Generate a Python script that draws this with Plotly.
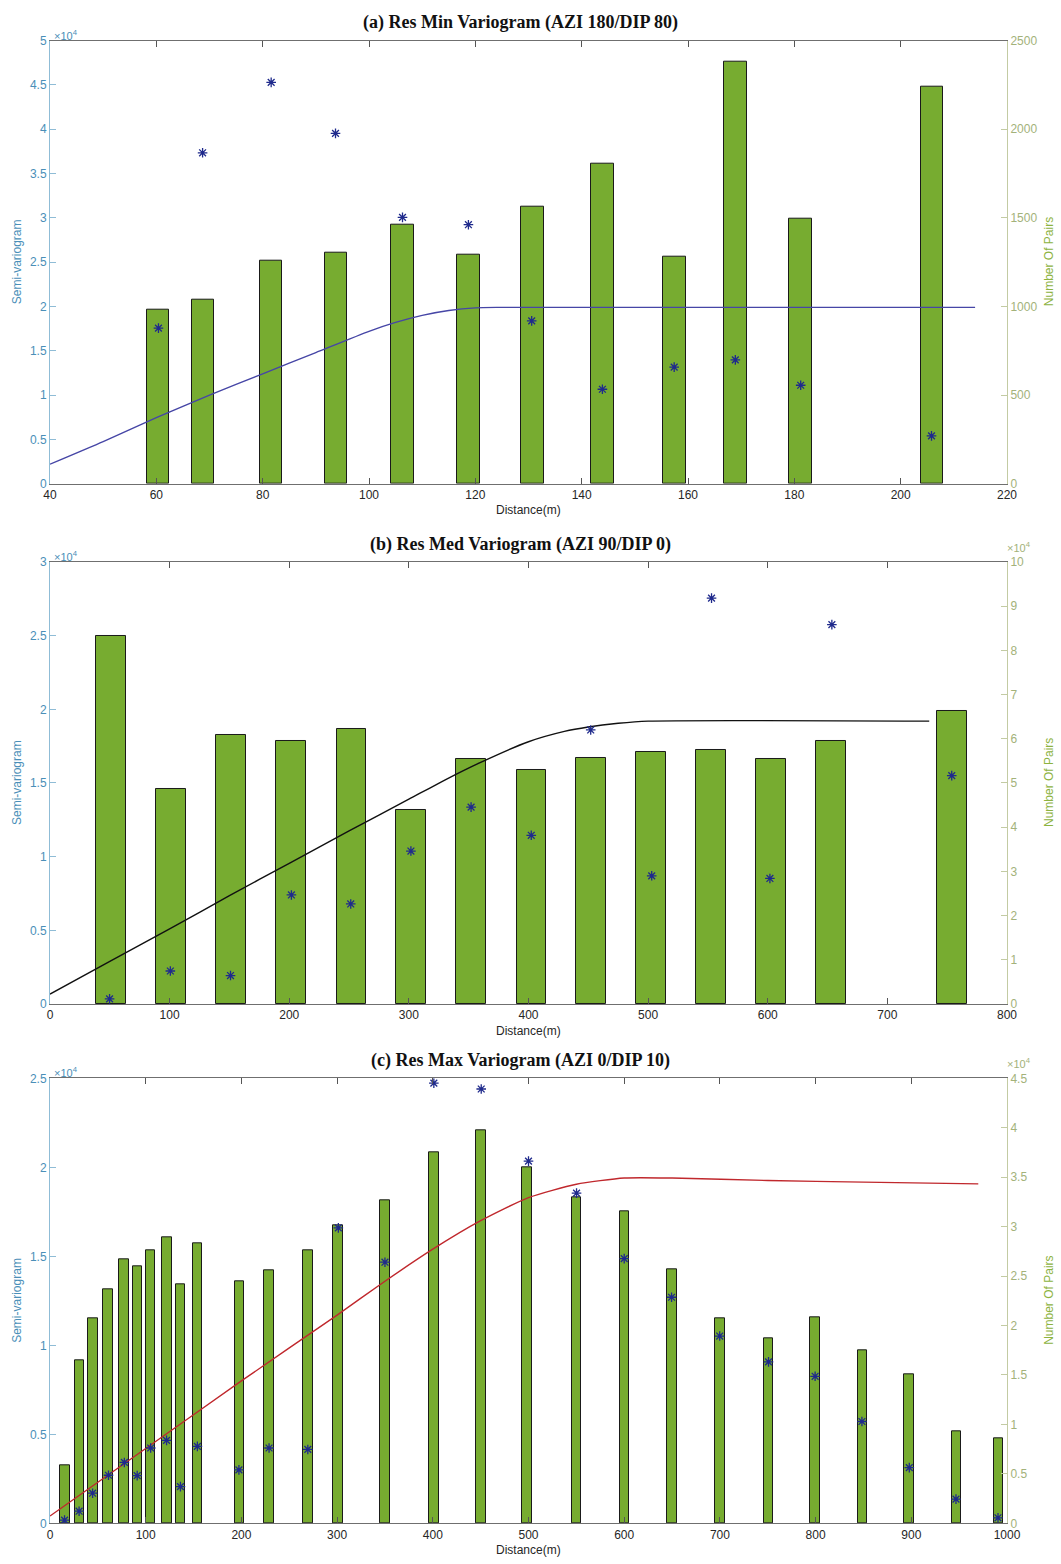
import plotly.graph_objects as go

# ---------------- data ----------------
# (a) Res Min Variogram
a_bar_x = [60.3, 68.8, 81.6, 93.8, 106.3, 118.7, 130.7, 143.9, 157.5, 168.9, 181.2, 205.9]
a_pairs = [984, 1036, 1259, 1304, 1459, 1295, 1562, 1804, 1279, 2383, 1497, 2243]
a_pt_x = [60.4, 68.7, 81.6, 93.7, 106.3, 118.7, 130.6, 143.9, 157.4, 168.9, 181.2, 205.8]
a_gamma = [17560, 37350, 45300, 39540, 30060, 29230, 18380, 10660, 13160, 13980, 11110, 5400]
a_model_x = [40, 50, 60, 70, 80, 90, 100, 105, 110, 115, 120, 124, 214]
a_model_y = [2200, 4750, 7450, 10000, 12400, 14800, 17200, 18200, 19000, 19550, 19850, 19900, 19900]

# (b) Res Med Variogram
b_bar_x = [51, 101, 151, 201.5, 252, 302, 352, 402.5, 452.5, 502.5, 552.5, 603, 653, 754]
b_pairs = [83300, 48600, 60800, 59400, 62200, 43800, 55500, 53000, 55700, 57000, 57400, 55400, 59600, 66300]
b_pt_x = [49.8, 100.6, 150.9, 201.8, 251.4, 301.7, 352, 402.3, 452, 503, 553, 601.8, 653.6, 753.8]
b_gamma = [350, 2240, 1930, 7400, 6790, 10380, 13360, 11450, 18600, 8700, 27550, 8520, 25750, 15500]
b_model_x = [0, 50, 100, 150, 200, 250, 300, 330, 360, 400, 430, 450, 475, 500, 735]
b_model_y = [670, 2900, 5100, 7350, 9550, 11750, 13900, 15200, 16400, 17800, 18500, 18800, 19050, 19200, 19200]

# (c) Res Max Variogram
c_bar_x = [15.5, 30.7, 44.8, 60.7, 77.6, 91.5, 105.2, 122.5, 136.5, 154.2, 198, 228.8, 269.6, 300.9,
           350.3, 401.1, 450.4, 498.6, 550.2, 600.1, 650, 700, 750.8, 799.6, 849.2, 897.6, 947.1, 991.2]
c_pairs = [5900, 16500, 20700, 23700, 26700, 26000, 27600, 28900, 24200, 28300, 24500, 25600, 27600, 30100,
           32700, 37500, 39700, 36000, 33000, 31500, 25700, 20700, 18700, 20800, 17500, 15100, 9300, 8600]
c_pt_x = [15.2, 30.4, 44.5, 61.1, 77.7, 91.1, 105.2, 121.8, 136.3, 154, 197.4, 228.9, 269.4, 301.3,
          350, 401.1, 450.6, 500, 550.2, 600, 649.5, 699.8, 750.8, 799.5, 848.4, 897.9, 946.7, 990.6]
c_gamma = [180, 680, 1690, 2700, 3420, 2680, 4230, 4660, 2060, 4320, 3000, 4230, 4150, 16600,
           14670, 24730, 24400, 20350, 18550, 14870, 12700, 10520, 9070, 8260, 5720, 3130, 1360, 310]
c_model_x = [0, 100, 200, 300, 350, 400, 450, 500, 550, 600, 650, 750, 850, 970]
c_model_y = [410, 4200, 8000, 11700, 13600, 15400, 17000, 18300, 19050, 19400, 19400, 19260, 19170, 19070]

# tick labels
a_x_ticks = [40, 60, 80, 100, 120, 140, 160, 180, 200, 220]
a_left_ticks = [0, 5000, 10000, 15000, 20000, 25000, 30000, 35000, 40000, 45000, 50000]
a_left_text = ["0", "0.5", "1", "1.5", "2", "2.5", "3", "3.5", "4", "4.5", "5"]
a_right_ticks = [0, 500, 1000, 1500, 2000, 2500]
a_right_text = ["0", "500", "1000", "1500", "2000", "2500"]

b_x_ticks = [0, 100, 200, 300, 400, 500, 600, 700, 800]
b_left_ticks = [0, 5000, 10000, 15000, 20000, 25000, 30000]
b_left_text = ["0", "0.5", "1", "1.5", "2", "2.5", "3"]
b_right_ticks = [0, 10000, 20000, 30000, 40000, 50000, 60000, 70000, 80000, 90000, 100000]
b_right_text = ["0", "1", "2", "3", "4", "5", "6", "7", "8", "9", "10"]

c_x_ticks = [0, 100, 200, 300, 400, 500, 600, 700, 800, 900, 1000]
c_left_ticks = [0, 5000, 10000, 15000, 20000, 25000]
c_left_text = ["0", "0.5", "1", "1.5", "2", "2.5"]
c_right_ticks = [0, 5000, 10000, 15000, 20000, 25000, 30000, 35000, 40000, 45000]
c_right_text = ["0", "0.5", "1", "1.5", "2", "2.5", "3", "3.5", "4", "4.5"]

titles = ["(a) Res Min Variogram (AZI 180/DIP 80)",
          "(b) Res Med Variogram (AZI 90/DIP 0)",
          "(c) Res Max Variogram (AZI 0/DIP 10)"]

# ---------------- style ----------------
W, H = 1061, 1564
ML, MR = 50, 54
PW = W - ML - MR
BAR_GREEN = "#77AC30"
LEFT_COL = "#4a8fb8"
LEFT_LINE = "#8fbcd6"
RIGHT_COL = "#a3b27a"
RIGHT_TITLE = "#8db33f"
RIGHT_LINE = "#c3cba3"
PT_COL = "#1f2a8c"
FONT = "Liberation Sans, Arial, sans-serif"


def px_x(p):
    return (p - ML) / PW


def px_y(p):
    return 1 - p / H


panels = [
    dict(top=34, bot=481, xr=[40, 220], xt=a_x_ticks, bar_x=a_bar_x, pairs=a_pairs, bw=4.25,
         pt_x=a_pt_x, gamma=a_gamma, mx=a_model_x, my=a_model_y, mcol="#4646a6",
         lt=a_left_ticks, ltt=a_left_text, lr=[0, 50000],
         rt=a_right_ticks, rtt=a_right_text, rr=[0, 2500], rexp=False),
    dict(top=560, bot=1006, xr=[0, 800], xt=b_x_ticks, bar_x=b_bar_x, pairs=b_pairs, bw=25,
         pt_x=b_pt_x, gamma=b_gamma, mx=b_model_x, my=b_model_y, mcol="#111111",
         lt=b_left_ticks, ltt=b_left_text, lr=[0, 30000],
         rt=b_right_ticks, rtt=b_right_text, rr=[0, 100000], rexp=True),
    dict(top=1081, bot=1530, xr=[0, 1000], xt=c_x_ticks, bar_x=c_bar_x, pairs=c_pairs, bw=10,
         pt_x=c_pt_x, gamma=c_gamma, mx=c_model_x, my=c_model_y, mcol="#c0282d",
         lt=c_left_ticks, ltt=c_left_text, lr=[0, 25000],
         rt=c_right_ticks, rtt=c_right_text, rr=[0, 45000], rexp=True),
]

fig = go.Figure()
layout = dict(width=W, height=H, margin=dict(l=ML, r=MR, t=0, b=0),
              paper_bgcolor="white", plot_bgcolor="white", showlegend=False,
              font=dict(family=FONT, size=12, color="#333333"))
annotations = []

for i, p in enumerate(panels):
    xn = "" if i == 0 else str(i + 1)
    yr_n = str(2 * i + 1) if i > 0 else ""
    yl_n = str(2 * i + 2)
    xa, yra, yla = "x" + xn, "y" + yr_n, "y" + yl_n
    dom = [px_y(p["bot"]), px_y(p["top"])]

    # bars on base (right) axis so markers/lines draw on top
    fig.add_trace(go.Bar(x=p["bar_x"], y=p["pairs"], width=p["bw"], xaxis=xa, yaxis=yra,
                         marker=dict(color=BAR_GREEN, line=dict(color="#1a1a1a", width=1))))
    fig.add_trace(go.Scatter(x=p["mx"], y=p["my"], mode="lines", xaxis=xa, yaxis=yla,
                             line=dict(color=p["mcol"], width=1.4, shape="spline", smoothing=0.6)))
    fig.add_trace(go.Scatter(x=p["pt_x"], y=p["gamma"], mode="markers", xaxis=xa, yaxis=yla,
                             marker=dict(symbol="asterisk-open", size=8, color=PT_COL,
                                         line=dict(color=PT_COL, width=1.3))))

    layout["xaxis" + xn] = dict(domain=[0, 1], range=p["xr"], anchor=yra, tickvals=p["xt"],
                                showgrid=False, zeroline=False, showline=True, linecolor="#6f6f6f",
                                linewidth=1, mirror="ticks", ticks="inside", ticklen=6,
                                tickcolor="#555555", tickfont=dict(size=12, color="#262626"))
    layout["yaxis" + yr_n] = dict(domain=dom, range=p["rr"], side="right", anchor=xa,
                                  tickvals=p["rt"], ticktext=p["rtt"], showgrid=False, zeroline=False,
                                  showline=True, linecolor=RIGHT_LINE, ticks="inside", ticklen=6,
                                  tickcolor=RIGHT_LINE, tickfont=dict(size=12, color=RIGHT_COL))
    layout["yaxis" + yl_n] = dict(range=p["lr"], side="left", overlaying=yra, anchor=xa,
                                  tickvals=p["lt"], ticktext=p["ltt"], showgrid=False, zeroline=False,
                                  showline=True, linecolor=LEFT_LINE, ticks="inside", ticklen=6,
                                  tickcolor=LEFT_LINE, tickfont=dict(size=12, color=LEFT_COL))

    mid = (p["top"] + p["bot"]) / 2
    # panel title
    annotations.append(dict(text="<b>" + titles[i] + "</b>", x=px_x(520), y=px_y(p["top"] - 18),
                            xref="paper", yref="paper", showarrow=False, xanchor="center",
                            yanchor="middle",
                            font=dict(family="Liberation Serif, Times New Roman, serif",
                                      size=18, color="#111111")))
    # x axis title
    annotations.append(dict(text="Distance(m)", x=px_x(528), y=px_y(p["bot"] + 27),
                            xref="paper", yref="paper", showarrow=False, xanchor="center",
                            yanchor="middle", font=dict(size=12, color="#262626")))
    # y axis titles
    annotations.append(dict(text="Semi-variogram", x=px_x(17), y=px_y(mid), xref="paper",
                            yref="paper", showarrow=False, textangle=-90, xanchor="center",
                            yanchor="middle", font=dict(size=12, color=LEFT_COL)))
    annotations.append(dict(text="Number Of Pairs", x=px_x(1049), y=px_y(mid), xref="paper",
                            yref="paper", showarrow=False, textangle=-90, xanchor="center",
                            yanchor="middle", font=dict(size=12, color=RIGHT_TITLE)))
    # exponent labels
    annotations.append(dict(text="\u00d710<sup>4</sup>", x=px_x(52), y=px_y(p["top"] - 6),
                            xref="paper", yref="paper", showarrow=False, xanchor="left",
                            yanchor="middle", font=dict(size=11, color=LEFT_COL)))
    if p["rexp"]:
        annotations.append(dict(text="\u00d710<sup>4</sup>", x=px_x(1005), y=px_y(p["top"] - 15),
                                xref="paper", yref="paper", showarrow=False, xanchor="left",
                                yanchor="middle", font=dict(size=11, color=RIGHT_COL)))

layout["annotations"] = annotations
layout["bargap"] = 0
fig.update_layout(**layout)

fig.write_html("out.html", config={"displayModeBar": False},
               post_script="document.body.style.margin='0';document.body.style.overflow='hidden';")
